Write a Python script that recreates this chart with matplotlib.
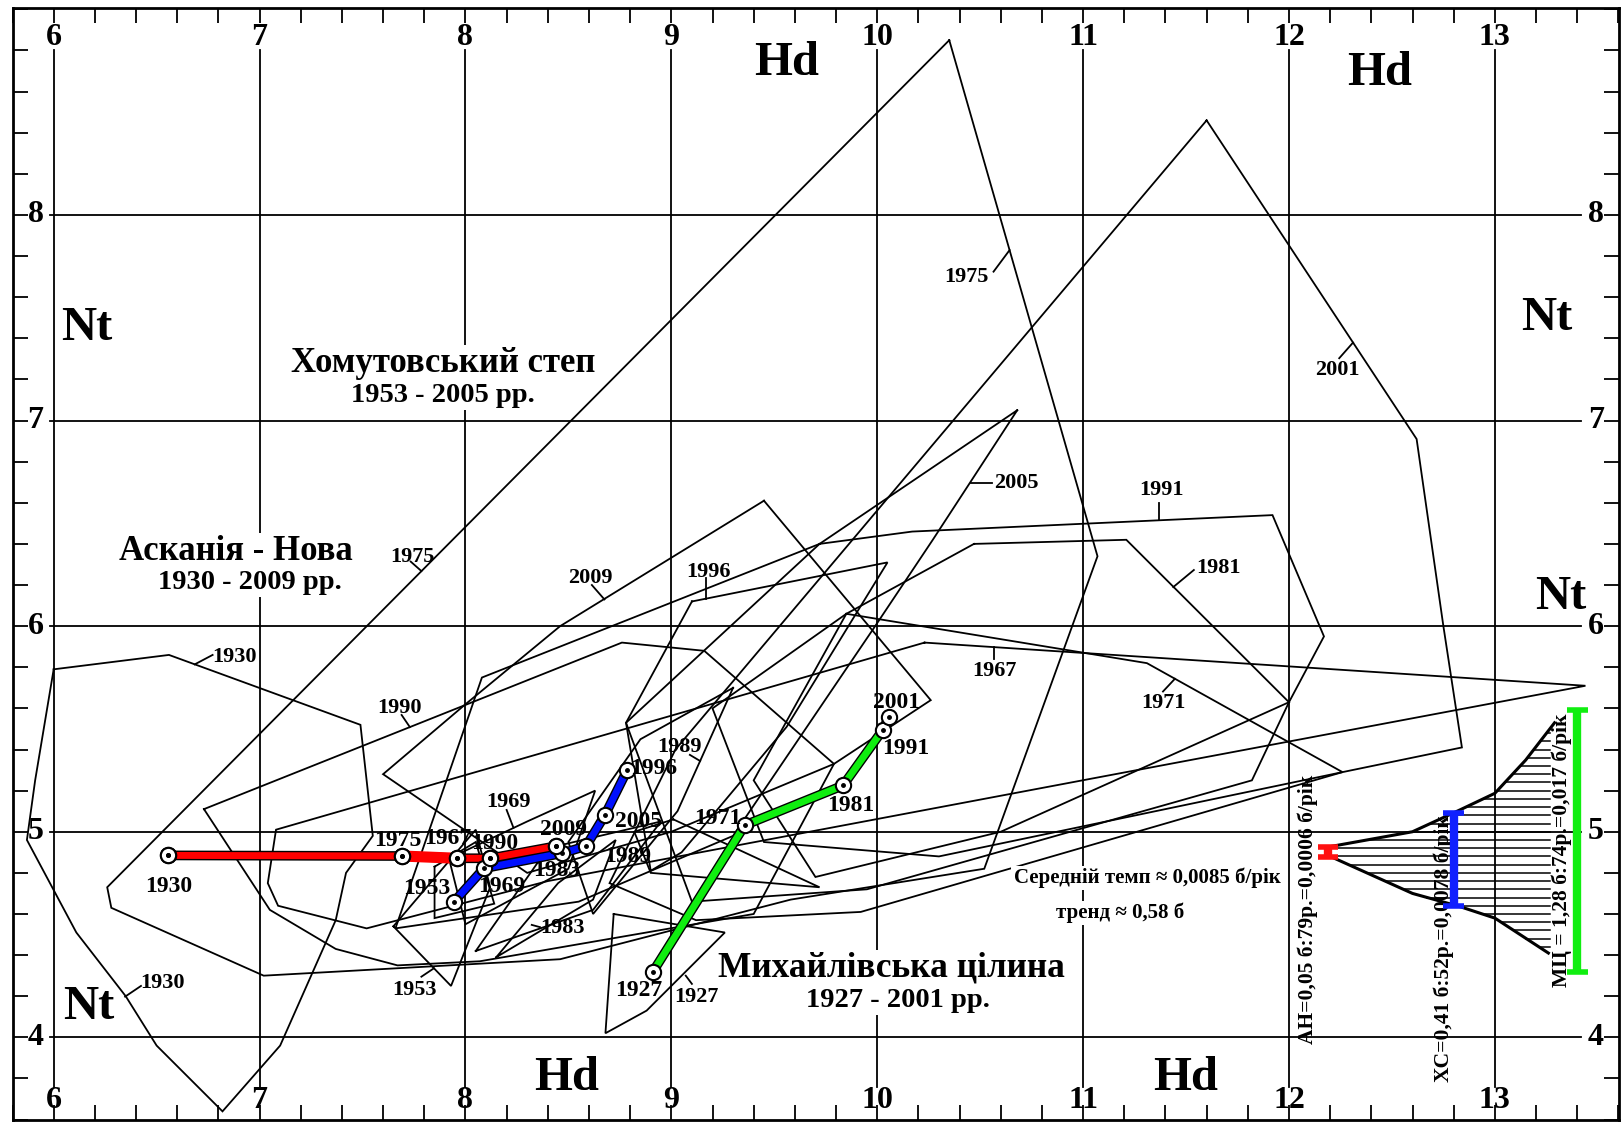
import numpy as np
import matplotlib
matplotlib.use("Agg")
import matplotlib.pyplot as plt

FONT = ['Liberation Serif', 'DejaVu Serif']
plt.rcParams['font.family'] = FONT

# ---------------- data (Hd, Nt) ----------------
# thin annual polygons (closed)
poly_A1930 = [(6.00,5.79),(6.56,5.86),(7.49,5.52),(7.55,4.98),(7.42,4.80),(7.37,4.57),(7.10,3.96),
              (6.82,3.64),(6.50,3.96),(6.35,4.20),(6.11,4.51),(5.87,4.96),(5.91,5.25)]
poly_H1975 = [(10.35,8.85),(11.07,6.34),(10.52,4.82),(9.58,4.67),(8.46,4.38),(7.38,4.32),(7.02,4.30),
              (6.28,4.63),(6.26,4.73)]
poly_M2001 = [(11.60,8.46),(12.62,6.91),(12.75,6.00),(12.84,5.41),(12.26,5.29),(9.92,4.61),(9.12,4.57),
              (8.70,4.75),(9.02,5.40)]
poly_H2005 = [(10.68,7.05),(10.27,6.42),(9.99,6.00),(9.30,4.98),(8.55,4.66),(7.66,4.53),(8.08,5.75),
              (9.72,6.40)]
poly_M1991 = [(9.72,6.40),(10.17,6.46),(11.92,6.54),(12.17,5.95),(12.00,5.63),(11.82,5.25),(9.95,4.72),
              (9.10,4.66),(8.78,5.53)]
poly_M1981 = [(10.47,6.40),(11.21,6.42),(12.00,5.63),(10.60,5.00),(9.70,4.78),(9.40,5.25),(9.85,6.06)]
poly_M1971 = [(9.85,6.06),(11.31,5.82),(12.26,5.29),(10.30,4.88),(9.45,4.95),(9.20,5.60)]
poly_A1967 = [(10.23,5.92),(13.44,5.71),(11.05,5.26),(8.40,4.76),(7.52,4.53),(7.09,4.64),(7.04,4.75),
              (7.08,5.01)]
poly_A1990 = [(6.73,5.11),(8.76,5.92),(9.16,5.88),(9.79,5.33),(9.40,4.60),(8.07,4.37),(7.67,4.35),
              (7.37,4.43),(7.05,4.62)]
poly_A2009 = [(9.45,6.61),(10.26,5.64),(9.79,5.33),(9.00,5.00),(8.30,4.80),(7.60,5.28),(8.00,5.62),
              (8.46,6.00)]
poly_H1996 = [(9.10,6.12),(10.05,6.31),(9.56,5.51),(9.05,4.90),(8.90,4.81),(8.78,5.53)]
poly_H1989 = [(9.30,5.70),(9.03,5.10),(8.62,4.60),(8.50,4.95),(8.85,5.45)]
poly_H1983 = [(8.05,4.42),(8.62,4.62),(8.95,5.05),(8.40,4.92)]
poly_H1969 = [(7.92,4.87),(8.30,5.05),(8.63,5.20),(8.50,4.82),(8.00,4.55)]
poly_H1953 = [(7.65,4.54),(8.05,5.01),(8.12,4.73),(7.93,4.25)]
poly_M1927 = [(8.72,4.60),(9.26,4.51),(8.88,4.13),(8.68,4.02)]
poly_X = [(9.01,5.06),(9.72,4.73),(8.90,4.80),(8.82,5.00)]
poly_Y = [(8.15,4.39),(8.62,4.67),(8.73,4.96),(8.45,4.75)]
poly_Z = [(7.85,4.83),(7.85,4.58),(8.14,4.65),(8.05,4.95)]
polygons = [poly_A1930, poly_H1975, poly_M2001, poly_H2005, poly_M1991, poly_M1981, poly_M1971,
            poly_A1967, poly_A1990, poly_A2009, poly_H1996, poly_H1989, poly_H1983, poly_H1969,
            poly_H1953, poly_M1927, poly_X, poly_Y, poly_Z]

# thin-polygon year labels: text, label pos, leader start, leader end
poly_labels = [
    ("1930", (6.876, 5.849), (6.772, 5.860), (6.685, 5.814)),
    ("1930", (6.529, 4.266), (6.424, 4.250), (6.347, 4.198)),
    ("1975", (7.743, 6.338), (7.734, 6.314), (7.786, 6.268)),
    ("1975", (10.435, 7.700), (10.565, 7.724), (10.643, 7.829)),
    ("1990", (7.680, 5.600), (7.690, 5.568), (7.730, 5.509)),
    ("2009", (8.605, 6.233), (8.614, 6.200), (8.675, 6.130)),
    ("1996", (9.180, 6.265), (9.168, 6.233), (9.168, 6.134)),
    ("2005", (10.675, 6.695), (10.557, 6.698), (10.455, 6.698)),
    ("1967", (10.570, 5.780), (10.569, 5.840), (10.569, 5.898)),
    ("1991", (11.380, 6.663), (11.368, 6.600), (11.368, 6.515)),
    ("1981", (11.660, 6.283), (11.538, 6.273), (11.438, 6.190)),
    ("1971", (11.390, 5.628), (11.388, 5.682), (11.446, 5.744)),
    ("2001", (12.235, 7.246), (12.244, 7.303), (12.311, 7.379)),
    ("1969", (8.208, 5.146), (8.200, 5.106), (8.233, 5.020)),
    ("1989", (9.040, 5.414), (9.090, 5.374), (9.140, 5.344)),
    ("1983", (8.470, 4.530), (8.362, 4.536), (8.322, 4.547)),
    ("1953", (7.752, 4.230), (7.786, 4.295), (7.847, 4.336)),
    ("1927", (9.120, 4.195), (9.100, 4.260), (9.070, 4.300)),
]

# trajectories of mean points
ask_years = ["1930", "1975", "1967", "1990", "2009"]
ask_hd = [6.557, 7.690, 7.958, 8.120, 8.440]
ask_nt = [4.885, 4.882, 4.871, 4.871, 4.930]
ask_lab = [(6.557, 4.734), (7.670, 4.955), (7.912, 4.966), (8.140, 4.944), (8.476, 5.012)]

hom_years = ["1953", "1969", "1983", "1989", "2005", "1996"]
hom_hd = [7.945, 8.090, 8.468, 8.586, 8.678, 8.786]
hom_nt = [4.660, 4.822, 4.895, 4.930, 5.082, 5.300]
hom_lab = [(7.810, 4.725), (8.176, 4.736), (8.443, 4.810), (8.790, 4.882), (8.840, 5.050), (8.915, 5.309)]

mih_years = ["1927", "1971", "1981", "1991", "2001"]
mih_hd = [8.910, 9.357, 9.834, 10.027, 10.056]
mih_nt = [4.318, 5.032, 5.225, 5.495, 5.557]
mih_lab = [(8.840, 4.230), (9.224, 5.065), (9.870, 5.130), (10.140, 5.406), (10.095, 5.630)]

# funnel of change rates
funnel_upper = [(12.185, 4.925), (12.60, 5.000), (12.83, 5.106), (13.00, 5.187), (13.15, 5.349), (13.29, 5.530)]
funnel_lower = [(12.185, 4.887), (12.60, 4.700), (12.83, 4.636), (13.00, 4.580), (13.26, 4.410)]
bars = [  # x, y_low, y_high, colour
    (12.19, 4.879, 4.925, '#ff1010'),
    (12.80, 4.639, 5.093, '#1020ff'),
    (13.40, 4.320, 5.592, '#10ee10'),
]
bar_texts = [
    ("АН=0,05 б:79р.=0,0006 б/рік", 12.09, 4.62),
    ("ХС=0,41 б:52р.=0,0078 б/рік", 12.75, 4.43),
    ("МЦ = 1,28 б:74р.=0,017 б/рік", 13.325, 4.91),
]

x_ticklabels = [6, 7, 8, 9, 10, 11, 12, 13]
y_ticklabels = [4, 5, 6, 7, 8]

# ---------------- figure ----------------
W, H = 1622, 1126
fig = plt.figure(figsize=(W / 100, H / 100), dpi=100)
ax = fig.add_axes([12.5 / W, 6 / H, (1619 - 12.5) / W, (1120 - 8.3) / H])
ax.set_xlim(5.80, 13.603)
ax.set_ylim(3.598, 9.005)
for s in ax.spines.values():
    s.set_linewidth(2.0)
ax.set_xticks(np.round(np.arange(5.8, 13.61, 0.2), 2))
ax.set_yticks(np.round(np.arange(3.6, 9.01, 0.2), 2))
ax.tick_params(direction='in', length=11, width=1.3, top=True, right=True,
               labelbottom=False, labelleft=False)

# grid
for xv in x_ticklabels:
    ax.plot([xv, xv], [3.76, 8.80], color='black', lw=1.3, zorder=1)
for yv in y_ticklabels:
    ax.plot([5.98, 13.42], [yv, yv], color='black', lw=1.3, zorder=1)

tk = dict(fontsize=23, fontweight='bold', ha='center', va='center', zorder=7)
for xv in x_ticklabels:
    ax.text(xv, 8.865, str(xv), **tk)
    ax.text(xv, 3.695, str(xv), **tk)
for yv in y_ticklabels:
    ax.text(5.912, yv, str(yv), **tk)
    ax.text(13.49, yv, str(yv), **tk)

# big axis letters
big = dict(fontsize=35, fontweight='bold', ha='center', va='center', zorder=7)
for (tx, x0, y0) in [("Hd", 9.56, 8.74), ("Hd", 12.44, 8.69), ("Hd", 8.49, 3.80), ("Hd", 11.50, 3.80),
                     ("Nt", 6.16, 7.45), ("Nt", 6.17, 4.15), ("Nt", 13.25, 7.50), ("Nt", 13.32, 6.14)]:
    ax.text(x0, y0, tx, **big)

# thin polygons
for p in polygons:
    arr = np.array(p + [p[0]])
    ax.plot(arr[:, 0], arr[:, 1], color='black', lw=1.3, zorder=2, solid_joinstyle='miter')

lab = dict(fontsize=16, fontweight='bold', ha='center', va='center', zorder=6)
for (t, pos, a, b) in poly_labels:
    ax.text(pos[0], pos[1], t, **lab)
    ax.plot([a[0], b[0]], [a[1], b[1]], color='black', lw=1.3, zorder=2)

# titles
tbox = dict(facecolor='white', edgecolor='none', pad=1.5)
ax.text(7.89, 7.275, "Хомутовський степ", fontsize=25, fontweight='bold', ha='center', va='center',
        zorder=3, bbox=tbox)
ax.text(7.89, 7.12, "1953 - 2005 рр.", fontsize=20.5, fontweight='bold', ha='center', va='center',
        zorder=3, bbox=tbox)
ax.text(6.885, 6.364, "Асканія - Нова", fontsize=25, fontweight='bold', ha='center', va='center',
        zorder=3, bbox=tbox)
ax.text(6.954, 6.213, "1930 - 2009 рр.", fontsize=20.5, fontweight='bold', ha='center', va='center',
        zorder=3, bbox=tbox)
ax.text(10.07, 4.335, "Михайлівська цілина", fontsize=25.5, fontweight='bold', ha='center', va='center',
        zorder=3, bbox=tbox)
ax.text(10.10, 4.177, "1927 - 2001 рр.", fontsize=20.5, fontweight='bold', ha='center', va='center',
        zorder=3, bbox=tbox)
ax.text(11.31, 4.775, "Середній темп ≈ 0,0085 б/рік", fontsize=15, fontweight='bold', ha='center',
        va='center', zorder=3, bbox=tbox)
ax.text(11.18, 4.605, "тренд ≈ 0,58 б", fontsize=15, fontweight='bold', ha='center', va='center',
        zorder=3, bbox=tbox)

# thick trajectories
lab2 = dict(lab, fontsize=17)

def trajectory(hd, nt, col, labs, years):
    ax.plot(hd, nt, color='black', lw=7.0, solid_capstyle='round', zorder=4)
    ax.plot(hd, nt, color=col, lw=5.0, solid_capstyle='round', zorder=4.1)
    ax.plot(hd, nt, ls='none', marker='o', ms=11, mfc='white', mec='black', mew=1.5, zorder=5)
    ax.plot(hd, nt, ls='none', marker='o', ms=2.5, mfc='black', mec='black', zorder=5.1)
    for (p, y) in zip(labs, years):
        ax.text(p[0], p[1], y, **lab2)

trajectory(ask_hd, ask_nt, '#ff0000', ask_lab, ask_years)
# heavier red stroke between the 1975 and 1967 points, as in the original
ax.plot(ask_hd[1:3], ask_nt[1:3], color='#ff0000', lw=8.0, zorder=4.2)
trajectory(hom_hd, hom_nt, '#0010ff', hom_lab, hom_years)
trajectory(mih_hd, mih_nt, '#10ee10', mih_lab, mih_years)
ax.plot(ask_hd, ask_nt, ls='none', marker='o', ms=11, mfc='white', mec='black', mew=1.5, zorder=5)
ax.plot(ask_hd, ask_nt, ls='none', marker='o', ms=2.5, mfc='black', mec='black', zorder=5.1)

# funnel with hatching
fu = np.array(funnel_upper)
fl = np.array(funnel_lower)
ax.plot(fu[:, 0], fu[:, 1], color='black', lw=2.2, zorder=3)
ax.plot(fl[:, 0], fl[:, 1], color='black', lw=2.2, zorder=3)
x_right = 13.27
for yv in np.arange(4.44, 5.50, 0.04):
    if yv >= fu[0, 1]:
        xl = np.interp(yv, fu[:, 1], fu[:, 0])
    elif yv <= fl[0, 1]:
        xl = np.interp(yv, fl[::-1, 1], fl[::-1, 0])
    else:
        xl = fu[0, 0]
    ax.plot([xl, x_right], [yv, yv], color='black', lw=1.1, zorder=3)

for (tx, x0, y0) in bar_texts:
    ax.text(x0, y0, tx, rotation=90, fontsize=15.5, fontweight='bold', ha='center', va='center', zorder=3.5)

for (xb, y0, y1, col) in bars:
    ax.plot([xb, xb], [y0, y1], color=col, lw=6, zorder=6, solid_capstyle='butt')
    for yy in (y0, y1):
        ax.plot([xb - 0.05, xb + 0.05], [yy, yy], color=col, lw=4, zorder=6, solid_capstyle='butt')

fig.savefig("out.png", dpi=100)
